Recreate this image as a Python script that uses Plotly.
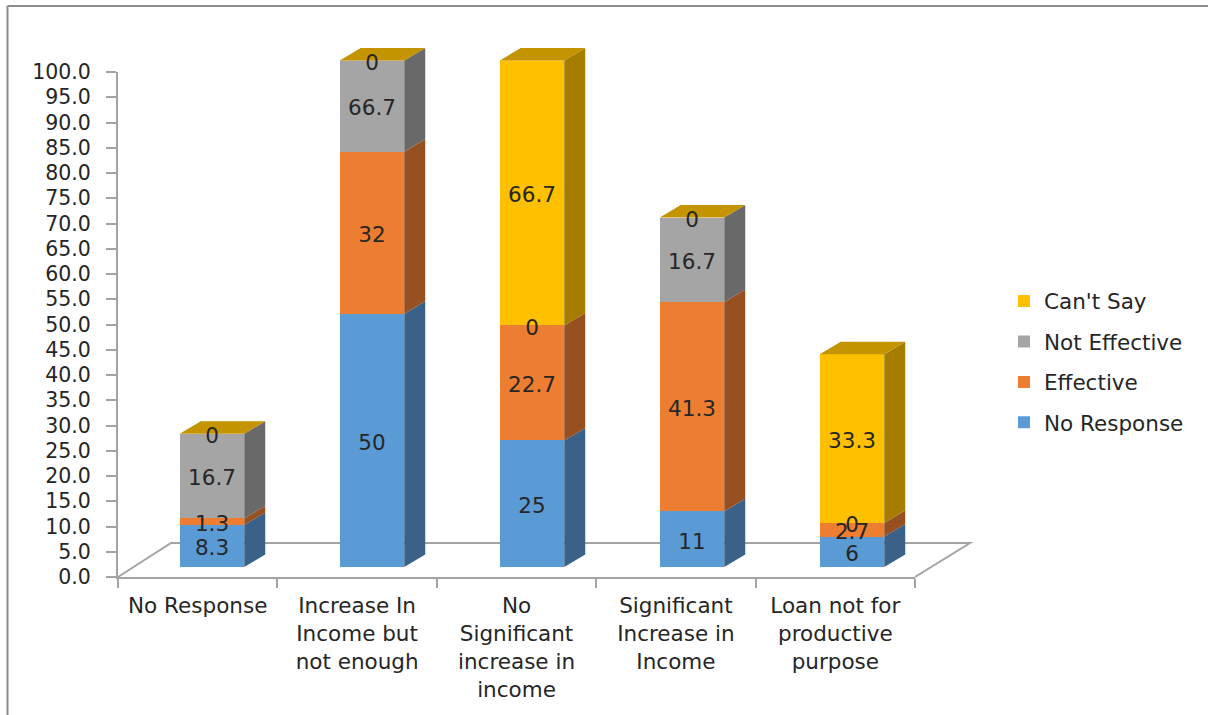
import plotly.graph_objects as go

categories = ["No Response", "Increase In<br>Income but<br>not enough", "No<br>Significant<br>increase in<br>income",
              "Significant<br>Increase in<br>Income", "Loan not for<br>productive<br>purpose"]
no_response = [8.3, 50, 25, 11, 6]
effective = [1.3, 32, 22.7, 41.3, 2.7]
not_effective = [16.7, 66.7, 0, 16.7, 0]
cant_say = [0, 0, 66.7, 0, 33.3]
y_ticks = [v * 5 for v in range(21)]

series = [
    ("No Response", no_response, "#5b9bd5", "#3a6288", 4),
    ("Effective", effective, "#ed7d31", "#97501f", 3),
    ("Not Effective", not_effective, "#a5a5a5", "#696969", 2),
    ("Can't Say", cant_say, "#ffc000", "#a67d00", 1),
]

W, H = 1208, 715
INK = "#262626"
GRID = "#a3a3a3"
FONT = "DejaVu Sans"
TICK_SIZE = 20.5
TEXT_SIZE = 21.5
Y_MAX = 100
Y_HEADROOM = 110        # the depth faces rise a little past the value range
BAR_WIDTH = 0.403
BAR_BASE_PX = 567
PX_PER_UNIT = 5.065
DEPTH_X = 21 / 160      # bar depth, in category units
DEPTH_Y = 12.5 / PX_PER_UNIT  # bar depth, in value units
LABEL_DROP = 4 / PX_PER_UNIT  # optical centring of the value labels
TOP_SHADE = "#c49400"


def px(x_px, y_px):
    """Pixel position on the page as a paper-fraction pair."""
    return f"{x_px / W} {1 - y_px / H}"


fig = go.Figure()

# Invisible carrier so the category axis shows its labels and boundary ticks.
fig.add_trace(go.Scatter(x=categories, y=[0] * len(categories), mode="lines",
                         line=dict(width=0), showlegend=False, hoverinfo="skip",
                         xaxis="x", yaxis="y"))

cum = [0.0] * len(categories)
top_x, top_y = [], []
label_x, label_y, label_t = [], [], []
side_traces = []
for name, values, front, side, rank in series:
    fig.add_trace(go.Bar(x=list(range(len(values))), y=values, name=name, legendgroup=name,
                         legendrank=rank,
                         marker=dict(color=front, line=dict(width=0)), width=BAR_WIDTH,
                         xaxis="x2", yaxis="y2", hoverinfo="name+y"))
    sx, sy = [], []
    for i, v in enumerate(values):
        low = min(cum[i], Y_MAX)
        high = min(cum[i] + v, Y_MAX)
        right = i + BAR_WIDTH / 2
        # Right-hand face of this segment, clamped to the visible value range.
        sx += [right, right + DEPTH_X, right + DEPTH_X, right, right, None]
        sy += [low, low + DEPTH_Y, high + DEPTH_Y, high, low, None]
        label_x.append(i)
        label_y.append((low + high) / 2 - LABEL_DROP)
        label_t.append(f"{v:g}")
        cum[i] += v
    side_traces.append(go.Scatter(x=sx, y=sy, mode="lines", fill="toself", fillcolor=side,
                                  line=dict(width=0), showlegend=False, hoverinfo="skip",
                                  xaxis="x3", yaxis="y3"))

# Cap of each column.
for i, total in enumerate(cum):
    t = min(total, Y_MAX)
    left, right = i - BAR_WIDTH / 2, i + BAR_WIDTH / 2
    top_x += [left, left + DEPTH_X, right + DEPTH_X, right, left, None]
    top_y += [t, t + DEPTH_Y, t + DEPTH_Y, t, t, None]

fig.add_traces(side_traces)
fig.add_trace(go.Scatter(x=top_x, y=top_y, mode="lines", fill="toself", fillcolor=TOP_SHADE,
                         line=dict(width=0), showlegend=False, hoverinfo="skip",
                         xaxis="x3", yaxis="y3"))
fig.add_trace(go.Scatter(x=label_x, y=label_y, text=label_t, mode="text",
                         textposition="middle center",
                         textfont=dict(family=FONT, size=TEXT_SIZE, color=INK),
                         showlegend=False, hoverinfo="skip",
                         xaxis="x3", yaxis="y3", cliponaxis=False))

# Floor of the chart, behind the columns, and the outer chart frame.
shapes = [
    dict(type="path", xref="paper", yref="paper", layer="below",
         path=f"M {px(118, 577)} L {px(171, 543)} L {px(970, 543)} L {px(915, 577)}",
         line=dict(color=GRID, width=2)),
    dict(type="line", xref="paper", yref="paper", x0=7.5 / W, x1=7.5 / W, y0=0, y1=1 - 6 / H,
         line=dict(color="#8c8c8c", width=2)),
    dict(type="line", xref="paper", yref="paper", x0=7.5 / W, x1=1, y0=1 - 6 / H, y1=1 - 6 / H,
         line=dict(color="#8c8c8c", width=2)),
]

fig.update_layout(
    template="none",
    width=W, height=H, autosize=False,
    margin=dict(l=0, r=0, t=0, b=0),
    paper_bgcolor="white", plot_bgcolor="rgba(0,0,0,0)",
    barmode="stack",
    font=dict(family=FONT, size=TEXT_SIZE, color=INK),
    shapes=shapes,
    xaxis=dict(type="category", categoryorder="array", categoryarray=categories,
               domain=[118 / W, 915 / W], range=[-0.5, 4.5], anchor="y",
               tickson="boundaries", ticks="outside", ticklen=9, tickwidth=1.5, tickcolor=GRID,
               showline=True, linecolor=GRID, linewidth=2, showgrid=False, zeroline=False,
               ticklabelstandoff=8, tickangle=0, automargin=False,
               tickfont=dict(family=FONT, size=TEXT_SIZE, color=INK), fixedrange=True),
    yaxis=dict(domain=[1 - 577 / H, 1 - 72 / H], range=[0, 100], anchor="x",
               tickmode="array", tickvals=y_ticks, tickformat=".1f",
               ticks="outside", ticklen=10, tickwidth=1.5, tickcolor=GRID,
               showline=True, linecolor=GRID, linewidth=2, showgrid=False, zeroline=False,
               ticklabelstandoff=11, automargin=False,
               tickfont=dict(family=FONT, size=TICK_SIZE, color=INK), fixedrange=True),
    xaxis2=dict(domain=[132 / W, 932 / W], range=[-0.5, 4.5], anchor="y2", visible=False,
                fixedrange=True),
    yaxis2=dict(domain=[1 - BAR_BASE_PX / H, 1 - (BAR_BASE_PX - Y_MAX * PX_PER_UNIT) / H],
                range=[0, Y_MAX], anchor="x2", visible=False, fixedrange=True),
    xaxis3=dict(domain=[132 / W, 932 / W], range=[-0.5, 4.5], anchor="y3", visible=False,
                fixedrange=True),
    yaxis3=dict(domain=[1 - BAR_BASE_PX / H, 1 - (BAR_BASE_PX - Y_HEADROOM * PX_PER_UNIT) / H],
                range=[0, Y_HEADROOM], anchor="x3", visible=False, fixedrange=True),
    legend=dict(x=1004 / W, xanchor="left", y=1 - 362 / H, yanchor="middle",
                traceorder="grouped", tracegroupgap=9.5,
                font=dict(family=FONT, size=TEXT_SIZE, color=INK),
                bgcolor="rgba(0,0,0,0)"),
    showlegend=True,
)

fig.write_html("out.html", config=dict(displayModeBar=False))
